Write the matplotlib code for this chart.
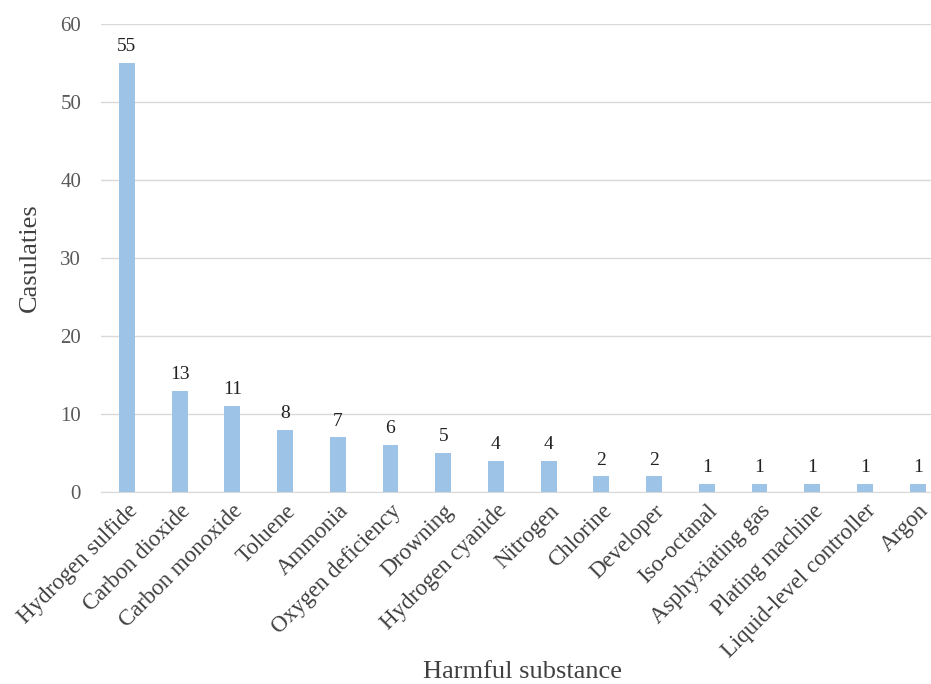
import matplotlib.pyplot as plt

# Casualties by harmful substance
substances = [
    'Hydrogen sulfide', 'Carbon dioxide', 'Carbon monoxide', 'Toluene',
    'Ammonia', 'Oxygen deficiency', 'Drowning', 'Hydrogen cyanide',
    'Nitrogen', 'Chlorine', 'Developer', 'Iso-octanal', 'Asphyxiating gas',
    'Plating machine', 'Liquid-level controller', 'Argon'
]
casualties = [55, 13, 11, 8, 7, 6, 5, 4, 4, 2, 2, 1, 1, 1, 1, 1]

plt.rcParams['font.family'] = ['Liberation Serif', 'DejaVu Serif']

fig = plt.figure(figsize=(9.31, 6.84), dpi=100)
ax = fig.add_axes([0.108, 0.2807, 0.906, 0.6843])

x = range(len(substances))
bars = ax.bar(x, casualties, width=0.3, color='#9DC3E6', zorder=3)

# value labels above bars
for bar in bars:
    h = bar.get_height()
    ax.text(bar.get_x() + bar.get_width() / 2, h + 1, int(h),
            ha='center', va='bottom', fontsize=14, color='#222222')

ax.set_xlim(-0.5, len(substances) - 0.5)
ax.set_ylim(0, 60)
ax.set_yticks(range(0, 61, 10))
ax.grid(axis='y', color='#D9D9D9', linewidth=1, zorder=0)

ax.set_xticks(list(x))
ax.set_xticklabels(substances, rotation=45, ha='right', rotation_mode='anchor',
                   fontsize=16.5, color='#404040')
ax.tick_params(axis='y', labelsize=15, labelcolor='#595959', length=0, pad=14)
ax.tick_params(axis='x', length=0, pad=6)

for side in ['top', 'right', 'left']:
    ax.spines[side].set_visible(False)
ax.spines['bottom'].set_color('#D9D9D9')

ax.set_ylabel('Casulaties', fontsize=19, color='#404040', labelpad=14)
ax.set_xlabel('Harmful substance', fontsize=19, color='#404040')
ax.xaxis.set_label_coords(0.5, -0.362)

plt.savefig('out.png', dpi=100)
